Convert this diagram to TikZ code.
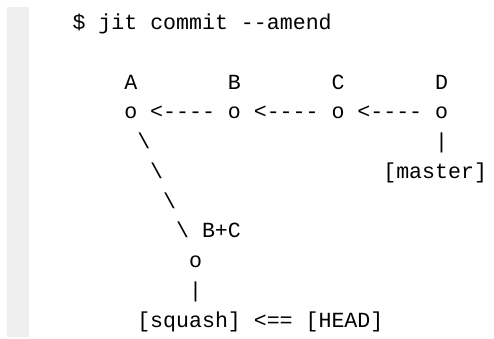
\documentclass[tikz,border=0pt]{standalone}
\usepackage{fontspec}
\setmonofont{Liberation Mono}
\usepackage{xcolor}
\usepackage{tikz}
\usetikzlibrary{positioning}
\definecolor{codebar}{HTML}{EFEFEF}
\tikzset{>=stealth}
\tikzset{ascii/.style={font=\ttfamily\fontsize{21.6}{29.75}\selectfont,
    anchor=base west,inner sep=0pt,outer sep=0pt}}

\begin{document}
\begin{tikzpicture}[x=12.95pt,y=-29.75pt]
        \useasboundingbox (0pt,0pt) rectangle (494pt,-338pt);
        \fill[codebar] (7pt,-7pt) rectangle (29pt,-337pt);
        % character grid: (column,line)
        \begin{scope}[shift={(72.5pt,-29.5pt)}]
        \node[ascii] (cmd) at (0,0) {\$ jit commit --amend};
        \foreach \c [count=\i from 0] in {A,B,C,D}
        {
          \node[ascii] (lab\c) at (4+8*\i,2) {\c};
          \node[ascii] (\c) at (4+8*\i,3) {o};
        }
        \foreach \i in {0,1,2}
          \node[ascii] (par\i) at (6+8*\i,3) {<----};
        \node[ascii] (s1) at (5,4) {\textbackslash};
        \node[ascii] (s2) at (6,5) {\textbackslash};
        \node[ascii] (s3) at (7,6) {\textbackslash};
        \node[ascii] (s4) at (8,7) {\textbackslash};
        \node[ascii] (labBC) at (10,7) {B+C};
        \node[ascii] (BC) at (9,8) {o};
        \node[ascii] (barD) at (28,4) {|};
        \node[ascii] (master) at (24,5) {[master]};
        \node[ascii] (barBC) at (9,9) {|};
        \node[ascii] (squash) at (5,10) {[squash]};
        \node[ascii] (ptr) at (14,10) {<==};
        \node[ascii] (head) at (18,10) {[HEAD]};
        \end{scope}
    \end{tikzpicture}
\end{document}
